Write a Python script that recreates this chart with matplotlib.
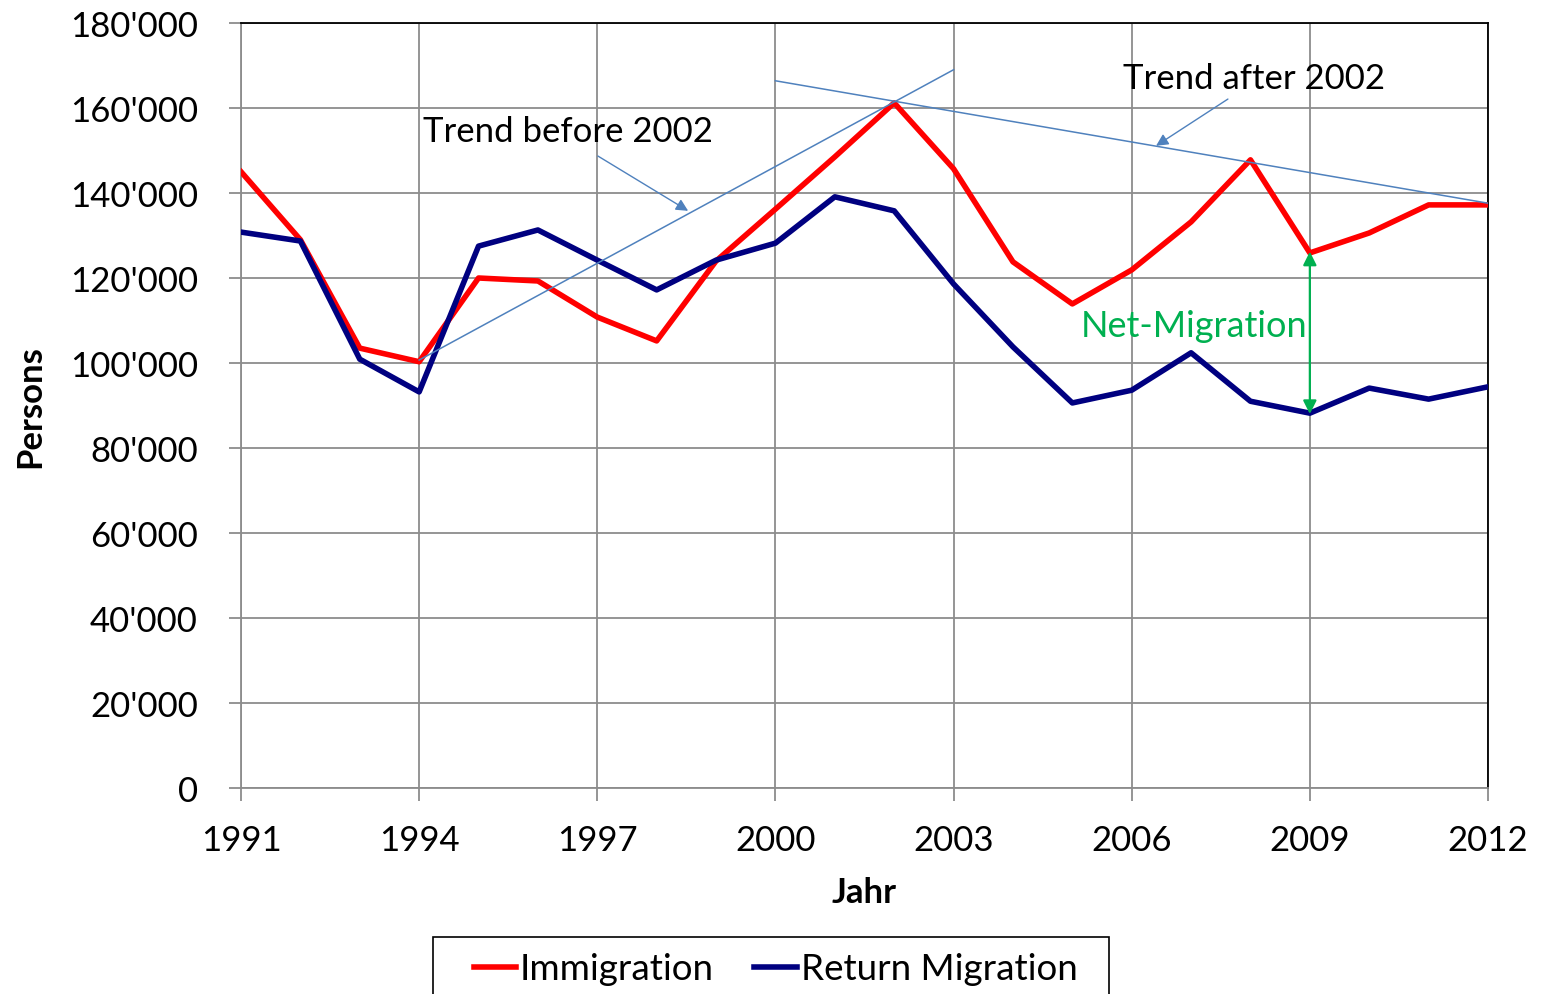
import matplotlib.pyplot as plt
from matplotlib.patches import Rectangle
from matplotlib.ticker import FuncFormatter

years = list(range(1991, 2013))
immigration = [145000, 129000, 103500, 100300, 120000, 119300, 110800, 105200, 124000, 136200,
               148500, 161200, 145700, 123800, 113900, 121900, 133200, 147800, 125900, 130600,
               137200, 137200]
return_migration = [130800, 128700, 100900, 93200, 127500, 131300, 124200, 117200, 124200, 128200,
                    139100, 135800, 118600, 103800, 90600, 93600, 102400, 91000, 88200, 94100,
                    91500, 94400]

trend_before_x = [1994, 2003]
trend_before_y = [100700, 169000]
trend_after_x = [2000, 2012]
trend_after_y = [166400, 137600]

plt.rcParams['font.family'] = ['Lato', 'DejaVu Sans']

fig = plt.figure(figsize=(15.41, 9.95), dpi=100)
ax = fig.add_axes([0.1564, 0.207, 0.8092, 0.7689])

ax.plot(years, immigration, color='#FF0000', lw=4.0, label='Immigration', zorder=3)
ax.plot(years, return_migration, color='#000080', lw=4.0, label='Return Migration', zorder=3)
ax.plot(trend_before_x, trend_before_y, color='#4F81BD', lw=1.1, zorder=4)
ax.plot(trend_after_x, trend_after_y, color='#4F81BD', lw=1.1, zorder=4)

ax.set_xlim(1991, 2012)
ax.set_ylim(0, 180000)
ax.set_xticks(range(1991, 2013, 3))
ax.set_yticks(range(0, 180001, 20000))
ax.yaxis.set_major_formatter(FuncFormatter(lambda v, p: f"{int(v):,}".replace(",", "'")))
ax.grid(True, color='#8C8C8C', lw=1.3)
ax.set_axisbelow(True)
ax.tick_params(axis='both', labelsize=25, length=9, width=1.3, color='#8C8C8C', direction='out')
ax.tick_params(axis='x', pad=17)
ax.tick_params(axis='y', pad=22)
for s in ['left', 'bottom']:
    ax.spines[s].set_color('#8C8C8C')
    ax.spines[s].set_linewidth(1.3)
for s in ['top', 'right']:
    ax.spines[s].set_color('black')
    ax.spines[s].set_linewidth(1.3)

ax.set_xlabel('Jahr', fontsize=25, fontweight='bold', labelpad=14)
ax.set_ylabel('Persons', fontsize=25, fontweight='bold', labelpad=17)

arrow_kw = dict(arrowstyle='-|>', color='#4F81BD', lw=1.0, mutation_scale=18,
                shrinkA=0, shrinkB=0)
ax.text(1996.5, 154600, 'Trend before 2002', fontsize=25, ha='center', va='center')
ax.annotate('', xy=(1998.53, 135800), xytext=(1997.01, 148700), arrowprops=arrow_kw)
ax.text(2008.06, 167000, 'Trend after 2002', fontsize=25, ha='center', va='center')
ax.annotate('', xy=(2006.41, 151100), xytext=(2007.62, 162100), arrowprops=arrow_kw)

ax.annotate('', xy=(2009, 126200), xytext=(2009, 88000),
            arrowprops=dict(arrowstyle='<|-|>', color='#00B050', lw=1.6, mutation_scale=20,
                            shrinkA=0, shrinkB=0), zorder=5)
ax.text(2007.05, 108900, 'Net-Migration', color='#00B050', fontsize=26, ha='center', va='center')

# legend box runs off the bottom edge like in the original
fig.patches.append(Rectangle((433 / 1541, -0.05), (1109 - 433) / 1541, 0.05 + 1 - 938 / 995,
                             transform=fig.transFigure, facecolor='white', edgecolor='black',
                             lw=1.2))
fig.legend(loc='center left', bbox_to_anchor=(474 / 1541, 1 - 970 / 995), ncol=2,
           fontsize=26.5, frameon=False, handlelength=1.15, handletextpad=0.1,
           columnspacing=1.1, borderpad=0, borderaxespad=0)

fig.savefig('out.png', dpi=100)
